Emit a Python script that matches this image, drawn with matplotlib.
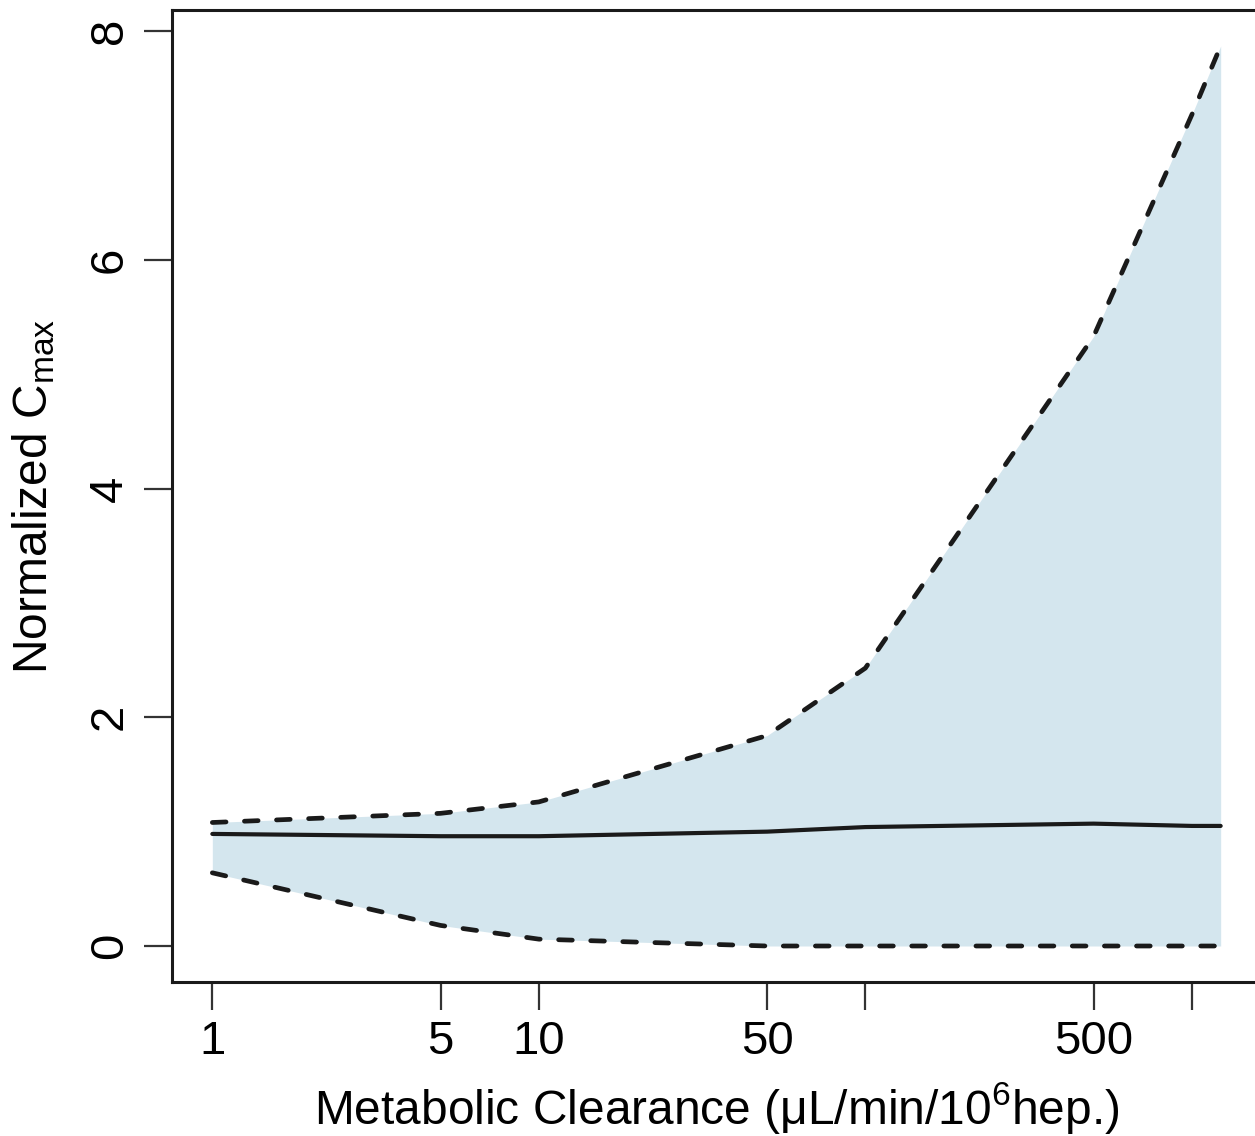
import numpy as np
import matplotlib
matplotlib.use("Agg")
import matplotlib.pyplot as plt

plt.rcParams['font.family'] = ['Liberation Sans', 'DejaVu Sans']
plt.rcParams['mathtext.fontset'] = 'custom'
plt.rcParams['mathtext.rm'] = 'Liberation Sans'
plt.rcParams['mathtext.it'] = 'Liberation Sans:italic'

# clearance values and normalized Cmax (median, 5th / 95th percentile)
clearance = [1, 5, 10, 50, 100, 500, 1000, 1225]
cmax_med = [0.98, 0.96, 0.96, 1.00, 1.04, 1.07, 1.05, 1.05]
cmax_lo = [0.64, 0.18, 0.06, 0.0, 0.0, 0.0, 0.0, 0.0]
cmax_hi = [1.08, 1.16, 1.26, 1.84, 2.43, 5.33, 7.27, 7.87]

xticks = [1, 5, 10, 50, 100, 500, 1000]
xlabels = ["1", "5", "10", "50", "", "500", ""]
yticks = [0, 2, 4, 6, 8]

W, H = 1255, 1136
fig = plt.figure(figsize=(W / 100, H / 100), dpi=100)
ax = fig.add_axes([172 / W, 1 - 982 / H, (1261 - 172) / W, (982 - 10) / H])

ax.fill_between(clearance, cmax_lo, cmax_hi, color="#d4e6ee", lw=0)
ax.plot(clearance, cmax_med, color="#1a1a1a", lw=3, solid_capstyle="round")
for s in (cmax_lo, cmax_hi):
    ax.plot(clearance, s, color="#1a1a1a", lw=3.4, linestyle=(0, (2.9, 3.9)),
            dash_capstyle="round")

ax.set_xscale("log")
# R style 4% extension of the data range
lx = np.log10([min(clearance), max(clearance)])
ex = 0.04 * (lx[1] - lx[0])
ax.set_xlim(10 ** (lx[0] - ex), 10 ** (lx[1] + ex))
ymax = max(cmax_hi)
ax.set_ylim(-0.04 * ymax, 1.04 * ymax)

ax.set_xticks(xticks)
ax.set_xticklabels(xlabels)
ax.xaxis.set_minor_locator(matplotlib.ticker.NullLocator())
ax.set_yticks(yticks)
ax.set_yticklabels([str(v) for v in yticks], rotation=90, va="center")

ax.tick_params(axis="both", labelsize=34, length=20, width=1.6, color="#333333")
ax.tick_params(axis="x", pad=7)
ax.tick_params(axis="y", pad=9)

for sp in ax.spines.values():
    sp.set_linewidth(2.2)
    sp.set_color("#1a1a1a")

ax.set_xlabel("Metabolic Clearance (\u03bcL/min/10$^{6}$hep.)", fontsize=34.5, labelpad=12)
ax.set_ylabel("Normalized C$_{\\mathrm{max}}$", fontsize=34.5, labelpad=22)

fig.savefig("out.png", dpi=100)
